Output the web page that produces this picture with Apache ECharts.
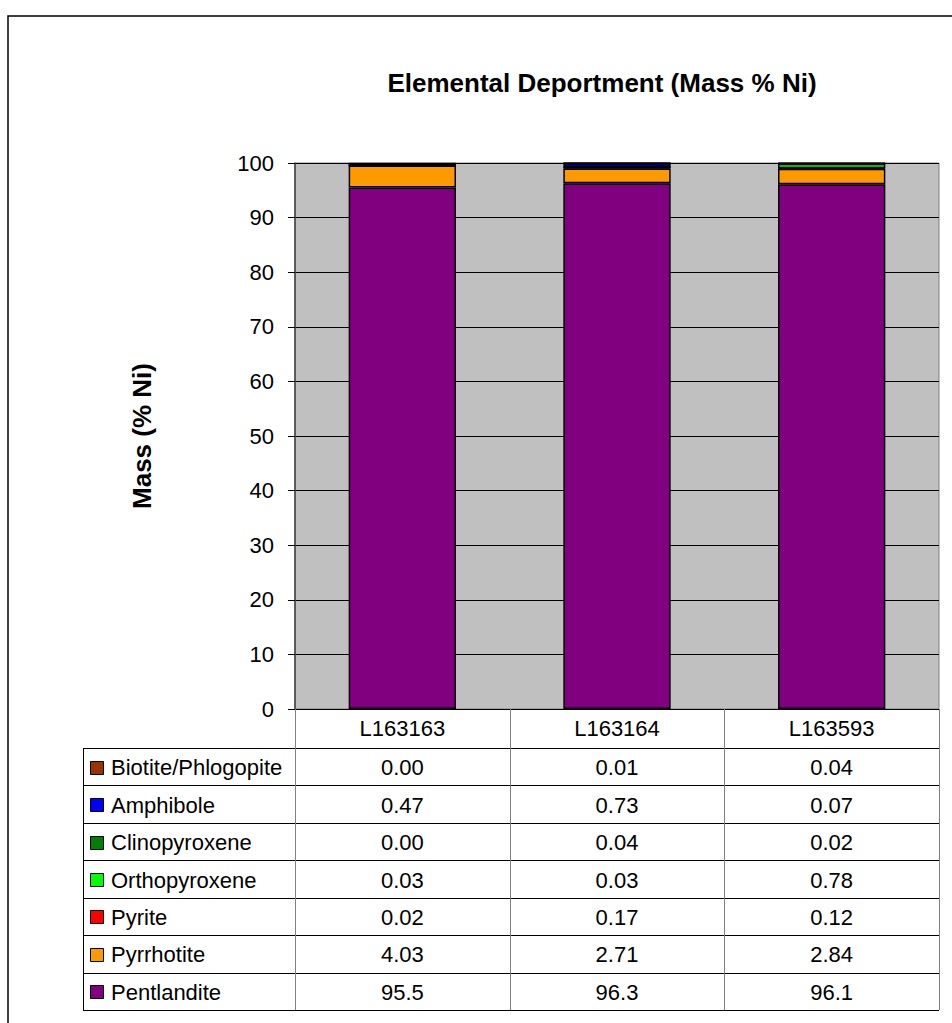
<!DOCTYPE html>
<html>
<head>
<meta charset="utf-8">
<script src="https://cdn.jsdelivr.net/npm/echarts@6/dist/echarts.min.js"></script>
<style>
html,body{margin:0;padding:0;background:#fff;}
#chart{width:952px;height:1023px;}
</style>
</head>
<body>
<div id="chart"></div>
<script>
// ---- data ----
const categories = ['L163163', 'L163164', 'L163593'];
const seriesNames = ['Pentlandite', 'Pyrrhotite', 'Pyrite', 'Orthopyroxene', 'Clinopyroxene', 'Amphibole', 'Biotite/Phlogopite'];
const pentlandite = [95.5, 96.3, 96.1];
const pyrrhotite = [4.03, 2.71, 2.84];
const pyrite = [0.02, 0.17, 0.12];
const orthopyroxene = [0.03, 0.03, 0.78];
const clinopyroxene = [0.00, 0.04, 0.02];
const amphibole = [0.47, 0.73, 0.07];
const biotite = [0.00, 0.01, 0.04];
const yTicks = [0, 10, 20, 30, 40, 50, 60, 70, 80, 90, 100];

const seriesValues = [pentlandite, pyrrhotite, pyrite, orthopyroxene, clinopyroxene, amphibole, biotite];
const colors = ['#800080', '#FF9900', '#FF0000', '#00FF00', '#008000', '#0000FF', '#993300'];

// ---- layout ----
const G = {left: 295, top: 163, right: 939, bottom: 709};
const tableLeft = 83;
const headerBottom = 748;
const rowH = (1010 - 748) / 7;
const font = '"Liberation Sans", Arial, sans-serif';
const fs = 22;

const fmt = v => v >= 10 ? v.toFixed(1) : v.toFixed(2);

const chart = echarts.init(document.getElementById('chart'), null, {renderer: 'svg'});

const series = seriesNames.map((n, i) => ({
  name: n,
  type: 'bar',
  stack: 'total',
  data: seriesValues[i],
  barWidth: '50%',
  itemStyle: {color: colors[i], borderColor: '#000', borderWidth: 1.5},
  emphasis: {disabled: true}
}));

const colW = (G.right - G.left) / categories.length;
const graphics = [];
// outer border
graphics.push({type: 'rect', shape: {x: 8, y: 16, width: 1000, height: 1100}, style: {fill: 'none', stroke: '#000', lineWidth: 1.5}, silent: true, z: 0});
// table horizontal lines
for (let r = 0; r <= 7; r++) {
  const y = Math.round(headerBottom + r * rowH) + 0.5;
  graphics.push({type: 'line', shape: {x1: tableLeft, y1: y, x2: G.right, y2: y}, style: {stroke: '#000', lineWidth: 1}, silent: true, z: 10});
}
// left vertical
graphics.push({type: 'line', shape: {x1: tableLeft + 0.5, y1: headerBottom, x2: tableLeft + 0.5, y2: 1010}, style: {stroke: '#000', lineWidth: 1}, silent: true, z: 10});
// column verticals
for (let c = 0; c <= categories.length; c++) {
  const x = Math.round(G.left + c * colW) + 0.5;
  graphics.push({type: 'line', shape: {x1: x, y1: G.bottom, x2: x, y2: 1010}, style: {stroke: '#808080', lineWidth: 1}, silent: true, z: 10});
}
// rows: top is last series
const rowOrder = seriesNames.map((n, i) => i).reverse();
rowOrder.forEach((si, r) => {
  const cy = headerBottom + r * rowH + rowH / 2;
  graphics.push({type: 'rect', shape: {x: 90.5, y: Math.round(cy - 6) + 0.5, width: 13, height: 13}, style: {fill: colors[si], stroke: '#000', lineWidth: 1}, silent: true, z: 11});
  graphics.push({type: 'text', x: 111, y: cy + 1, style: {text: seriesNames[si], font: fs + 'px ' + font, fill: '#000', textAlign: 'left', textVerticalAlign: 'middle'}, silent: true, z: 11});
  categories.forEach((cat, c) => {
    graphics.push({type: 'text', x: G.left + colW * (c + 0.5), y: cy + 1, style: {text: fmt(seriesValues[si][c]), font: fs + 'px ' + font, fill: '#000', textAlign: 'center', textVerticalAlign: 'middle'}, silent: true, z: 11});
  });
});

chart.setOption({
  animation: false,
  backgroundColor: '#fff',
  title: {
    text: 'Elemental Deportment (Mass % Ni)',
    left: 597, top: 65, textAlign: 'center',
    textStyle: {fontFamily: font, fontWeight: 'bold', fontSize: 26, color: '#000'}
  },
  grid: {
    left: G.left, top: G.top, width: G.right - G.left, height: G.bottom - G.top,
    show: true, backgroundColor: '#C0C0C0', borderColor: '#808080', borderWidth: 1
  },
  xAxis: {
    type: 'category', data: categories,
    axisLine: {show: true, lineStyle: {color: '#000', width: 1}},
    axisTick: {show: false},
    axisLabel: {fontFamily: font, fontSize: fs, color: '#000', margin: 8}
  },
  yAxis: {
    type: 'value', min: 0, max: 100, interval: 10,
    name: 'Mass (% Ni)', nameLocation: 'middle', nameGap: 140, nameRotate: 90,
    nameTextStyle: {fontFamily: font, fontWeight: 'bold', fontSize: 26, color: '#000'},
    axisLine: {show: true, lineStyle: {color: '#404040', width: 1.5}},
    axisTick: {show: true, inside: false, length: 7, lineStyle: {color: '#000'}},
    axisLabel: {fontFamily: font, fontSize: fs, color: '#000', margin: 21, formatter: v => yTicks.includes(v) ? String(v) : ''},
    splitLine: {show: true, lineStyle: {color: '#000', width: 1}}
  },
  series: series,
  graphic: graphics
});
</script>
</body>
</html>
